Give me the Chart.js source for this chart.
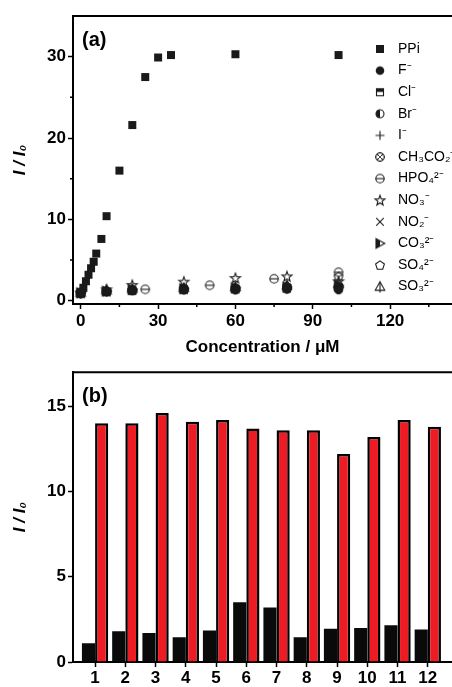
<!DOCTYPE html>
<html>
<head>
<meta charset="utf-8">
<script src="https://cdn.jsdelivr.net/npm/chart.js@4.4.1/dist/chart.umd.min.js"></script>
<style>
  html, body { margin: 0; padding: 0; background: #fff; }
  canvas { display: block; }
</style>
</head>
<body>
<canvas id="titrationChart" width="452" height="360"></canvas>
<canvas id="selectivityChart" width="452" height="327"></canvas>
<script>
// ---- data ----
const ppiConc  = [0, 1, 2, 3, 4, 5, 6, 8, 10, 15, 20, 25, 30, 35, 60, 100];
const ppiRatio = [1.0, 1.6, 2.4, 3.2, 4.0, 4.8, 5.8, 7.6, 10.4, 16.0, 21.6, 27.5, 29.9, 30.2, 30.3, 30.2];

const anionConc = [0, 10, 20, 40, 60, 80, 100];
const hpoConc   = [0, 25, 50, 75, 100];

const fRatio     = [0.9, 1.1, 1.2, 1.3, 1.3, 1.4, 1.3];
const clRatio    = [1.0, 1.1, 1.3, 1.4, 1.5, 1.6, 1.7];
const brRatio    = [0.9, 1.2, 1.3, 1.4, 1.5, 1.6, 1.7];
const iRatio     = [1.0, 1.2, 1.4, 1.5, 1.6, 1.7, 1.8];
const acRatio    = [0.9, 1.1, 1.3, 1.4, 1.4, 1.5, 1.6];
const hpoRatio   = [1.0, 1.4, 1.9, 2.7, 3.5];
const no3Ratio   = [1.0, 1.4, 1.95, 2.35, 2.8, 3.0, 2.4];
const no2Ratio   = [0.9, 1.0, 1.2, 1.3, 1.4, 1.5, 1.6];
const co3Ratio   = [1.0, 1.2, 1.4, 1.5, 1.6, 1.7, 1.9];
const so4Ratio   = [1.0, 1.2, 1.3, 1.5, 1.6, 1.8, 3.0];
const so3Ratio   = [1.0, 1.3, 1.5, 1.6, 1.7, 1.9, 2.1];

const anionLabels = ['PPi', 'F⁻', 'Cl⁻', 'Br⁻', 'I⁻', 'CH₃CO₂⁻', 'HPO₄²⁻',
                     'NO₃⁻', 'NO₂⁻', 'CO₃²⁻', 'SO₄²⁻', 'SO₃²⁻'];

const sampleIds    = [1, 2, 3, 4, 5, 6, 7, 8, 9, 10, 11, 12];
const anionOnly    = [1.1, 1.8, 1.7, 1.45, 1.85, 3.5, 3.2, 1.45, 1.95, 2.0, 2.15, 1.9];
const anionWithPPi = [14.0, 14.0, 14.6, 14.1, 14.2, 13.7, 13.6, 13.6, 12.2, 13.2, 14.2, 13.8];

// ---- common styling ----
Chart.defaults.font.family = '"Liberation Sans", Arial, sans-serif';
Chart.defaults.color = '#000';
const tickFont = { size: 17, weight: 'bold' };
const ink = '#1a1a1a';

// small canvases used as point styles (open/half-filled Origin-like symbols)
function makeMarker(kind) {
  const s = 14, m = s / 2;
  const c = document.createElement('canvas');
  c.width = c.height = s;
  const g = c.getContext('2d');
  g.lineWidth = 1.1; g.strokeStyle = ink; g.fillStyle = ink;
  const poly = (pts) => { g.beginPath(); pts.forEach((p, i) => i ? g.lineTo(p[0], p[1]) : g.moveTo(p[0], p[1])); g.closePath(); };
  switch (kind) {
    case 'square':
      g.fillRect(m - 4, m - 4, 8, 8); break;
    case 'dot':
      g.beginPath(); g.arc(m, m, 4.3, 0, Math.PI * 2); g.fill(); break;
    case 'squareTop':
      g.strokeRect(m - 3.5, m - 3.5, 7, 7); g.fillRect(m - 3.5, m - 3.5, 7, 3.2); break;
    case 'circleHalf':
      g.beginPath(); g.arc(m, m, 4, 0, Math.PI * 2); g.stroke();
      g.beginPath(); g.arc(m, m, 4, Math.PI / 2, Math.PI * 1.5); g.closePath(); g.fill(); break;
    case 'plus':
      g.beginPath(); g.moveTo(m - 4.5, m); g.lineTo(m + 4.5, m); g.moveTo(m, m - 4.5); g.lineTo(m, m + 4.5); g.stroke(); break;
    case 'hatch':
      g.lineWidth = 0.8;
      g.beginPath(); g.arc(m, m, 4.5, 0, Math.PI * 2); g.stroke();
      poly([[m, m - 4.5], [m + 4.5, m], [m, m + 4.5], [m - 4.5, m]]); g.stroke();
      g.beginPath(); g.moveTo(m - 3.2, m - 3.2); g.lineTo(m + 3.2, m + 3.2); g.moveTo(m + 3.2, m - 3.2); g.lineTo(m - 3.2, m + 3.2); g.stroke(); break;
    case 'circleBar':
      g.beginPath(); g.arc(m, m, 4.2, 0, Math.PI * 2); g.stroke();
      g.beginPath(); g.moveTo(m - 4.2, m); g.lineTo(m + 4.2, m); g.stroke(); break;
    case 'star': {
      const pts = [];
      for (let k = 0; k < 10; k++) {
        const a = -Math.PI / 2 + k * Math.PI / 5, r = k % 2 ? 2.2 : 5.3;
        pts.push([m + r * Math.cos(a), m + 0.5 + r * Math.sin(a)]);
      }
      poly(pts); g.stroke(); break;
    }
    case 'x':
      g.beginPath(); g.moveTo(m - 3.8, m - 3.8); g.lineTo(m + 3.8, m + 3.8); g.moveTo(m + 3.8, m - 3.8); g.lineTo(m - 3.8, m + 3.8); g.stroke(); break;
    case 'triHalf':
      poly([[m - 4, m - 4.8], [m + 4.8, m], [m - 4, m + 4.8]]); g.stroke();
      poly([[m - 4, m - 4.8], [m, m - 2.6], [m, m + 2.6], [m - 4, m + 4.8]]); g.fill(); break;
    case 'pentagon': {
      const pts = [];
      for (let k = 0; k < 5; k++) {
        const a = -Math.PI / 2 + k * 2 * Math.PI / 5;
        pts.push([m + 4.6 * Math.cos(a), m + 0.5 + 4.6 * Math.sin(a)]);
      }
      poly(pts); g.stroke(); break;
    }
    case 'triBar':
      poly([[m, m - 4.8], [m + 4.8, m + 3.6], [m - 4.8, m + 3.6]]); g.stroke();
      g.beginPath(); g.moveTo(m, m - 4.8); g.lineTo(m, m + 6); g.stroke(); break;
  }
  return c;
}

const markerKinds = ['square', 'dot', 'squareTop', 'circleHalf', 'plus', 'hatch',
                     'circleBar', 'star', 'x', 'triHalf', 'pentagon', 'triBar'];
const seriesX = [ppiConc, anionConc, anionConc, anionConc, anionConc, anionConc,
                 hpoConc, anionConc, anionConc, anionConc, anionConc, anionConc];
const seriesY = [ppiRatio, fRatio, clRatio, brRatio, iRatio, acRatio,
                 hpoRatio, no3Ratio, no2Ratio, co3Ratio, so4Ratio, so3Ratio];

// top frame line, minor ticks, panel letter
const panelDecor = {
  id: 'panelDecor',
  afterDraw(chart, args, opts) {
    const { ctx, chartArea: a, scales } = chart;
    ctx.save();
    ctx.strokeStyle = '#000';
    ctx.lineWidth = 2;
    ctx.beginPath(); ctx.moveTo(a.left - 1, a.top); ctx.lineTo(a.right, a.top); ctx.stroke();

    ctx.lineWidth = 1.5;
    ctx.beginPath();
    if (opts.minorX) {
      scales.x.ticks.forEach(t => {
        const v = t.value + opts.minorX / 2;
        if (v < scales.x.max) { const px = scales.x.getPixelForValue(v); ctx.moveTo(px, a.bottom); ctx.lineTo(px, a.bottom + 3); }
      });
    }
    if (opts.minorY) {
      scales.y.ticks.forEach(t => {
        const v = t.value + opts.minorY / 2;
        if (v < scales.y.max) { const py = scales.y.getPixelForValue(v); ctx.moveTo(a.left, py); ctx.lineTo(a.left - 3, py); }
      });
    }
    ctx.stroke();

    ctx.fillStyle = '#000';
    ctx.font = 'bold 20px "Liberation Sans", Arial, sans-serif';
    ctx.textBaseline = 'middle';
    ctx.fillText(opts.label, a.left + 9, a.top + 24);
    ctx.restore();
  }
};

// legend drawn inside the plot area, as in the figure
const insideLegend = {
  id: 'insideLegend',
  afterDraw(chart, args, opts) {
    if (!opts.show) return;
    const { ctx, chartArea: a } = chart;
    ctx.save();
    ctx.fillStyle = '#000';
    ctx.font = '14px "Liberation Sans", Arial, sans-serif';
    ctx.textBaseline = 'middle';
    chart.data.datasets.forEach((ds, i) => {
      const y = a.top + 33 + i * 21.6;
      const img = ds.pointStyle;
      ctx.drawImage(img, a.right - 72 - img.width / 2, y - img.height / 2);
      ctx.fillText(ds.label, a.right - 54, y);
    });
    ctx.restore();
  }
};

Chart.register(panelDecor, insideLegend);

// ---- (a) titration scatter ----
const ctx1 = document.getElementById('titrationChart').getContext('2d');
const titrationChart = new Chart(ctx1, {
  type: 'scatter',
  data: {
    datasets: anionLabels.map((lab, i) => ({
      label: lab,
      data: seriesX[i].map((x, j) => ({ x: x, y: seriesY[i][j] })),
      pointStyle: makeMarker(markerKinds[i]),
      pointRadius: 5,
      showLine: false
    }))
  },
  options: {
    responsive: false,
    animation: false,
    layout: { autoPadding: false, padding: { top: 16, right: 0, left: 0, bottom: 0 } },
    scales: {
      x: {
        type: 'linear',
        min: -3,
        max: 144,
        afterFit: (s) => { s.height = 56; },
        ticks: { stepSize: 30, includeBounds: false, font: tickFont, padding: 2, maxRotation: 0 },
        grid: { display: true, drawOnChartArea: false, drawTicks: true, tickLength: 5, tickColor: '#000', tickWidth: 1.5 },
        border: { display: true, color: '#000', width: 2 },
        title: { display: true, text: 'Concentration / μM', font: { size: 17, weight: 'bold' }, padding: { top: 0, bottom: 2 } }
      },
      y: {
        min: -0.4,
        max: 35,
        afterFit: (s) => { s.width = 73; },
        ticks: { stepSize: 10, includeBounds: false, font: tickFont, padding: 2 },
        grid: { display: true, drawOnChartArea: false, drawTicks: true, tickLength: 5, tickColor: '#000', tickWidth: 1.5 },
        border: { display: true, color: '#000', width: 2 },
        title: { display: true, text: 'I / I₀', font: { size: 17, weight: 'bold', style: 'italic' }, padding: { top: 10, bottom: 0 } }
      }
    },
    plugins: {
      legend: { display: false },
      tooltip: { enabled: false },
      panelDecor: { label: '(a)', minorX: 30, minorY: 10 },
      insideLegend: { show: true }
    }
  }
});

// ---- (b) selectivity bars ----
const ctx2 = document.getElementById('selectivityChart').getContext('2d');
const selectivityChart = new Chart(ctx2, {
  type: 'bar',
  data: {
    datasets: [
      {
        label: 'anion',
        data: sampleIds.map((id, i) => ({ x: id, y: anionOnly[i] })),
        backgroundColor: '#0a0a0a',
        borderWidth: 0
      },
      {
        label: 'anion + PPi',
        data: sampleIds.map((id, i) => ({ x: id, y: anionWithPPi[i] })),
        backgroundColor: '#ed1c24',
        borderColor: '#000',
        borderWidth: 2.5
      }
    ]
  },
  options: {
    responsive: false,
    animation: false,
    layout: { autoPadding: false, padding: { top: 12, right: 0, left: 0, bottom: 0 } },
    datasets: { bar: { categoryPercentage: 0.87, barPercentage: 1.0 } },
    scales: {
      x: {
        type: 'linear',
        offset: false,
        min: 0.27,
        max: 12.8,
        afterFit: (s) => { s.height = 25; },
        ticks: { stepSize: 1, includeBounds: false, font: tickFont, padding: 1, maxRotation: 0 },
        grid: { display: true, offset: false, drawOnChartArea: false, drawTicks: true, tickLength: 5, tickColor: '#000', tickWidth: 1.5 },
        border: { display: true, color: '#000', width: 2 }
      },
      y: {
        min: 0,
        max: 17,
        afterFit: (s) => { s.width = 73; },
        ticks: { stepSize: 5, includeBounds: false, font: tickFont, padding: 2 },
        grid: { display: true, drawOnChartArea: false, drawTicks: true, tickLength: 5, tickColor: '#000', tickWidth: 1.5 },
        border: { display: true, color: '#000', width: 2 },
        title: { display: true, text: 'I / I₀', font: { size: 17, weight: 'bold', style: 'italic' }, padding: { top: 10, bottom: 0 } }
      }
    },
    plugins: {
      legend: { display: false },
      tooltip: { enabled: false },
      panelDecor: { label: '(b)' },
      insideLegend: { show: false }
    }
  }
});
</script>
</body>
</html>
